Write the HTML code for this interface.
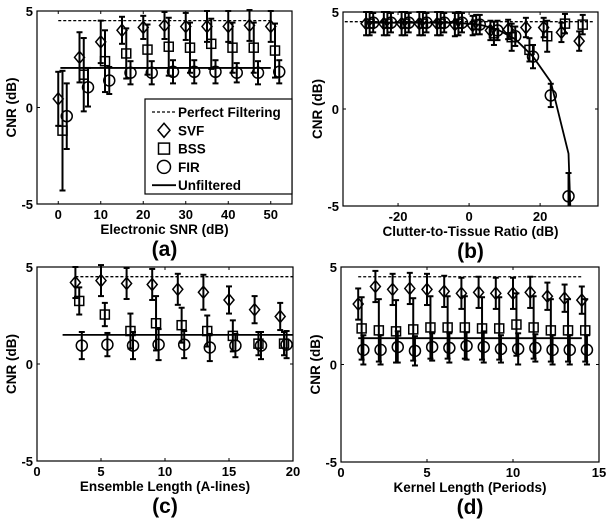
<!DOCTYPE html>
<html><head><meta charset="utf-8"><style>
body{margin:0;background:#fff}
svg text{font-family:"Liberation Sans",sans-serif;font-weight:bold;fill:#000}
</style></head><body>
<svg id="chart" width="612" height="526" xmlns="http://www.w3.org/2000/svg"></svg>
<script>
// Panel (a)
const aSvfX=[0,5,10,15,20,25,30,35,40,45,50];
const aSvfY=[0.45,2.6,3.4,4.0,4.15,4.25,4.2,4.2,4.2,4.25,4.2];
const aSvfE=[1.4,1.3,1.1,0.7,0.6,0.7,0.7,0.8,0.8,0.8,0.8];
const aBssX=[1,6,11,16,21,26,31,36,41,46,51];
const aBssY=[-1.2,1.7,2.4,2.8,3.0,3.15,3.1,3.3,3.1,3.1,2.95];
const aBssE=[3.1,1.9,1.6,1.3,1.3,1.5,1.3,1.3,1.3,1.3,1.4];
const aFirX=[2,7,12,17,22,27,32,37,42,47,52];
const aFirY=[-0.45,1.05,1.4,1.8,1.8,1.85,1.85,1.85,1.8,1.8,1.85];
const aFirE=[1.7,1.0,0.7,0.6,0.6,0.6,0.6,0.6,0.5,0.6,0.6];
const aUnfX=[0.5,50];const aUnfY=[2.05,2.05];
const aPerfX=[0,50];const aPerfY=[4.5,4.5];
const aTicks=[0,10,20,30,40,50];
// Panel (b)
const bSvfX=[-29,-24,-19,-14,-9,-4,1,6,11,16,21,26,31];
const bSvfY=[4.4,4.4,4.4,4.4,4.4,4.35,4.3,4.05,4.1,4.2,4.2,3.95,3.5];
const bSvfE=[0.6,0.6,0.6,0.6,0.6,0.6,0.5,0.5,0.5,0.5,0.5,0.5,0.5];
const bBssX=[-28,-23,-18,-13,-8,-3,2,7,12,17,22,27,32];
const bBssY=[4.4,4.4,4.4,4.4,4.4,4.4,4.35,3.9,3.7,3.05,3.75,4.4,4.35];
const bBssE=[0.6,0.6,0.6,0.6,0.6,0.6,0.5,0.6,0.7,0.6,0.8,0.5,0.5];
const bFirX=[-27,-22,-17,-12,-7,-2,3,8,13,18,23,28];
const bFirY=[4.45,4.45,4.45,4.45,4.45,4.45,4.35,4.05,3.75,2.7,0.7,-4.5];
const bFirE=[0.5,0.5,0.5,0.5,0.5,0.5,0.5,0.5,0.5,0.6,0.6,1.2];
const bUnfX=[-29,-24,-19,-14,-9,-4,3,8,13,18,23,28,28.5];
const bUnfY=[4.45,4.45,4.45,4.45,4.45,4.45,4.35,4.1,3.6,2.7,1.4,-2.3,-5];
const bPerfX=[-35,35];const bPerfY=[4.5,4.5];
const bTicks=[-20,0,20];
// Panel (c)
const cSvfX=[3,5,7,9,11,13,15,17,19];
const cSvfY=[4.2,4.3,4.15,4.1,3.85,3.7,3.3,2.8,2.45];
const cSvfE=[0.8,0.8,0.8,0.8,0.8,0.9,0.7,0.7,0.7];
const cBssX=[3.3,5.3,7.3,9.3,11.3,13.3,15.3,17.3,19.3];
const cBssY=[3.25,2.55,1.7,2.1,2.0,1.7,1.45,1.05,1.05];
const cBssE=[0.7,0.6,0.9,1.4,0.9,0.8,0.8,0.6,0.6];
const cFirX=[3.5,5.5,7.5,9.5,11.5,13.5,15.5,17.5,19.5];
const cFirY=[0.95,1.0,0.95,1.0,1.0,0.85,0.95,0.95,1.0];
const cFirE=[0.7,0.6,0.7,0.8,0.7,0.7,0.6,0.7,0.7];
const cUnfX=[2,20];const cUnfY=[1.5,1.5];
const cPerfX=[3,20];const cPerfY=[4.5,4.5];
const cTicks=[0,5,10,15,20];
// Panel (d)
const dSvfX=[1,2,3,4,5,6,7,8,9,10,11,12,13,14];
const dSvfY=[3.1,4.0,3.85,3.9,3.85,3.75,3.65,3.7,3.65,3.65,3.7,3.5,3.4,3.3];
const dSvfE=[0.8,0.8,0.8,0.8,0.8,0.8,0.8,0.8,0.8,0.8,0.8,0.7,0.7,0.7];
const dBssX=[1.2,2.2,3.2,4.2,5.2,6.2,7.2,8.2,9.2,10.2,11.2,12.2,13.2,14.2];
const dBssY=[1.85,1.75,1.7,1.8,1.9,1.9,1.9,1.85,1.85,2.05,1.9,1.75,1.75,1.75];
const dBssE=[1.6,1.6,1.6,1.6,1.6,1.6,1.6,1.6,1.6,1.6,1.6,1.6,1.6,1.6];
const dFirX=[1.3,2.3,3.3,4.3,5.3,6.3,7.3,8.3,9.3,10.3,11.3,12.3,13.3,14.3];
const dFirY=[0.75,0.75,0.9,0.7,0.9,0.85,0.95,0.9,0.8,0.8,0.85,0.75,0.75,0.75];
const dFirE=[0.75,0.75,0.8,0.75,0.7,0.75,0.7,0.8,0.7,0.8,0.7,0.75,0.75,0.75];
const dUnfX=[1,14];const dUnfY=[1.35,1.35];
const dPerfX=[1,14];const dPerfY=[4.5,4.5];
const dTicks=[0,5,10,15];
const yTicks=[-5,0,5];

const svg=document.getElementById('chart');
const NS='http://www.w3.org/2000/svg';
function mk(tag,attrs,parent){const e=document.createElementNS(NS,tag);for(const k in attrs)e.setAttribute(k,attrs[k]);(parent||svg).appendChild(e);return e;}

function panel(id,box,xd,xTicks,xlabel,title,s){
  const g=mk('g',{});
  
  
  const [L,T,R,B]=box;
  const xs=v=>L+(v-xd[0])/(xd[1]-xd[0])*(R-L);
  const ys=v=>B-(v+5)/10*(B-T);
  const clip=mk('clipPath',{id:'clip'+id},g);
  mk('rect',{x:L,y:T-8,width:R-L,height:B-T+8},clip);
  const frame=mk('rect',{x:L,y:T,width:R-L,height:B-T,fill:'none',stroke:'#000','stroke-width':1.2},g);
  
  
  xTicks.forEach(t=>{const x=xs(t);
    mk('line',{x1:x,x2:x,y1:B,y2:B-3,stroke:'#000'},g);
    mk('line',{x1:x,x2:x,y1:T,y2:T+3,stroke:'#000'},g);
    const tx=mk('text',{x:x,y:B+15,'text-anchor':'middle','font-size':13},g);tx.textContent=t;
    
    });
  yTicks.forEach(t=>{const y=ys(t);
    mk('line',{x1:L,x2:L+3,y1:y,y2:y,stroke:'#000'},g);
    mk('line',{x1:R,x2:R-3,y1:y,y2:y,stroke:'#000'},g);
    const tx=mk('text',{x:L-4,y:y+5,'text-anchor':'end','font-size':13},g);tx.textContent=t;
    
    });
  const xl=mk('text',{x:(L+R)/2,y:B+30,'text-anchor':'middle','font-size':13.5},g);xl.textContent=xlabel;
  
  
  const yl=mk('text',{x:0,y:0,'text-anchor':'middle','font-size':13.5,transform:`translate(${L-21},${(T+B)/2}) rotate(-90)`},g);yl.textContent='CNR (dB)';
  
  
  const tt=mk('text',{x:(L+R)/2,y:B+52,'text-anchor':'middle','font-size':21},g);tt.textContent=title;
  
  
  const pg=mk('g',{'clip-path':`url(#clip${id})`},g);
  const pp=mk('polyline',{points:s.perfX.map((x,i)=>xs(x)+','+ys(s.perfY[i])).join(' '),fill:'none',stroke:'#000','stroke-width':1.3,'stroke-dasharray':'3,2'},pg);
  
  
  const up=mk('polyline',{points:s.unfX.map((x,i)=>xs(x)+','+ys(s.unfY[i])).join(' '),fill:'none',stroke:'#000','stroke-width':1.8},pg);
  
  
  function series(X,Y,E,shape,name){
    X.forEach((x,i)=>{const cx=xs(x),cy=ys(Y[i]),y1=ys(Y[i]+E[i]),y2=ys(Y[i]-E[i]);
      const eb=mk('g',{stroke:'#000','stroke-width':2,fill:'none'},pg);
      
      
      mk('line',{x1:cx,x2:cx,y1:y1,y2:y2},eb);
      mk('line',{x1:cx-3,x2:cx+3,y1:y1,y2:y1},eb);
      mk('line',{x1:cx-3,x2:cx+3,y1:y2,y2:y2},eb);
      let m;
      if(shape==='d')m=mk('polygon',{points:`${cx},${cy-6} ${cx+5},${cy} ${cx},${cy+6} ${cx-5},${cy}`,fill:'none',stroke:'#000','stroke-width':1.5},pg);
      else if(shape==='s')m=mk('rect',{x:cx-4.5,y:cy-4.5,width:9,height:9,fill:'none',stroke:'#000','stroke-width':1.5},pg);
      else m=mk('circle',{cx:cx,cy:cy,r:5.5,fill:'none',stroke:'#000','stroke-width':1.5},pg);
      
      
    });
  }
  series(s.svfX,s.svfY,s.svfE,'d','svf');
  series(s.bssX,s.bssY,s.bssE,'s','bss');
  series(s.firX,s.firY,s.firE,'c','fir');
  return {xs,ys,g};
}
const pa=panel('a',[37,11,292,204],[-5,55],aTicks,'Electronic SNR (dB)','(a)',{svfX:aSvfX,svfY:aSvfY,svfE:aSvfE,bssX:aBssX,bssY:aBssY,bssE:aBssE,firX:aFirX,firY:aFirY,firE:aFirE,unfX:aUnfX,unfY:aUnfY,perfX:aPerfX,perfY:aPerfY});
panel('b',[343,12,598,206],[-35.5,36.3],bTicks,'Clutter-to-Tissue Ratio (dB)','(b)',{svfX:bSvfX,svfY:bSvfY,svfE:bSvfE,bssX:bBssX,bssY:bBssY,bssE:bBssE,firX:bFirX,firY:bFirY,firE:bFirE,unfX:bUnfX,unfY:bUnfY,perfX:bPerfX,perfY:bPerfY});
panel('c',[37,267,293,461],[0,20],cTicks,'Ensemble Length (A-lines)','(c)',{svfX:cSvfX,svfY:cSvfY,svfE:cSvfE,bssX:cBssX,bssY:cBssY,bssE:cBssE,firX:cFirX,firY:cFirY,firE:cFirE,unfX:cUnfX,unfY:cUnfY,perfX:cPerfX,perfY:cPerfY});
panel('d',[341,267,599,462],[0,15],dTicks,'Kernel Length (Periods)','(d)',{svfX:dSvfX,svfY:dSvfY,svfE:dSvfE,bssX:dBssX,bssY:dBssY,bssE:dBssE,firX:dFirX,firY:dFirY,firE:dFirE,unfX:dUnfX,unfY:dUnfY,perfX:dPerfX,perfY:dPerfY});

// legend in panel (a)
const lg=mk('g',{});


mk('rect',{x:145,y:99,width:147,height:95,fill:'#fff',stroke:'#000','stroke-width':1.2},lg);
const items=['Perfect Filtering','SVF','BSS','FIR','Unfiltered'];
items.forEach((t,i)=>{const y=112+i*18.3;const cx=164;
  const e=mk('g',{},lg);
  
  
  if(i===0)mk('line',{x1:152,x2:176,y1:y,y2:y,stroke:'#000','stroke-width':1.3,'stroke-dasharray':'3,2'},e);
  if(i===1)mk('polygon',{points:`${cx},${y-7} ${cx+6},${y} ${cx},${y+7} ${cx-6},${y}`,fill:'none',stroke:'#000','stroke-width':1.5},e);
  if(i===2)mk('rect',{x:cx-5.5,y:y-5.5,width:11,height:11,fill:'none',stroke:'#000','stroke-width':1.5},e);
  if(i===3)mk('circle',{cx:cx,cy:y,r:6.5,fill:'none',stroke:'#000','stroke-width':1.5},e);
  if(i===4)mk('line',{x1:152,x2:176,y1:y,y2:y,stroke:'#000','stroke-width':1.8},e);
  const tx=mk('text',{x:178,y:y+5,'font-size':13.5},e);tx.textContent=t;
});
</script>
</body></html>
